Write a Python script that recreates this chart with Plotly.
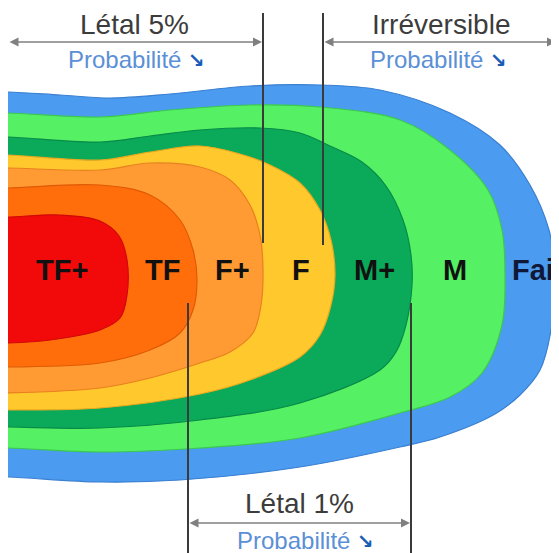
import plotly.graph_objects as go

# ---- data: zone labels and outline anchor points (pixel space) ----
zone_labels = ["Fai", "M", "M+", "F", "F+", "TF", "TF+"]
zone_label_x = [510, 455, 374, 301, 232, 162, 62]
zone_label_y = [270, 270, 270, 270, 270, 270, 270]

fai_pts = [(-20, 92), (8, 92), (60, 95), (110, 98), (170, 94), (250, 86), (320, 85),
           (380, 90), (450, 113), (500, 145), (530, 185), (549, 230), (555, 273),
           (551, 330), (540, 370), (520, 395), (495, 414), (440, 437), (400, 447),
           (300, 467), (180, 480), (100, 482), (8, 477), (-20, 477)]
m_pts = [(-20, 113), (8, 113), (100, 117), (170, 110), (250, 105), (320, 107),
         (400, 120), (450, 150), (488, 190), (502, 230), (505, 273), (502, 325),
         (482, 373), (450, 397), (400, 413), (300, 438), (200, 448), (100, 452),
         (8, 448), (-20, 448)]
mp_pts = [(-20, 137), (8, 137), (100, 142), (150, 136), (200, 130), (260, 128),
          (300, 133), (330, 146), (362, 162), (386, 186), (403, 220), (411, 255),
          (412, 285), (406, 325), (396, 352), (380, 370), (300, 403), (200, 420),
          (100, 428), (8, 427), (-20, 427)]
f_pts = [(-20, 155), (8, 155), (100, 160), (150, 152), (200, 146), (240, 154),
         (270, 165), (300, 183), (320, 210), (331, 240), (335, 275), (331, 305),
         (320, 335), (300, 357), (250, 380), (200, 394), (100, 408), (8, 410), (-20, 410)]
fp_pts = [(-20, 168), (8, 168), (100, 170), (150, 163), (200, 167), (230, 180),
          (250, 205), (260, 235), (263, 270), (261, 305), (253, 333), (230, 352),
          (200, 363), (150, 378), (100, 388), (8, 393), (-20, 393)]
tf_pts = [(-20, 188), (8, 188), (100, 185), (150, 195), (180, 220), (193, 250),
          (197, 280), (193, 310), (180, 333), (150, 350), (100, 363), (8, 367), (-20, 367)]
tfp_pts = [(-20, 217), (8, 217), (60, 215), (100, 221), (119, 236), (127, 260),
           (127, 295), (120, 318), (100, 330), (50, 340), (8, 343), (-20, 343)]
zone_outlines = [fai_pts, m_pts, mp_pts, f_pts, fp_pts, tf_pts, tfp_pts]

zone_fill = ["#4B9BF0", "#55F064", "#0AAA5A", "#FFC82D", "#FF9B32", "#FF6E0A", "#F20A0A"]
zone_edge = ["#3A7FD0", "#3CC850", "#088A48", "#E8A820", "#E88020", "#E05A05", "#D00808"]
label_colors = ["#101838", "#111111", "#111111", "#111111", "#111111", "#111111", "#111111"]

# threshold lines (x, y_start, y_end)
thr_x = [263, 323, 188, 411]
thr_y0 = [13, 13, 303, 303]
thr_y1 = [243, 245, 553, 553]

# range annotations
rng_titles = ["Létal 5%", "Irréversible", "Létal 1%"]
rng_title_x = [134, 441, 299]
rng_title_y = [24, 24, 503]
rng_x0 = [8, 323, 188]
rng_x1 = [262, 556, 410]
rng_arrow_y = [42, 42, 523]
prob_x = [124, 426, 293]
prob_y = [59, 59, 540]
prob_text = "Probabilité"

fig = go.Figure()

for pts, fc, ec in zip(zone_outlines, zone_fill, zone_edge):
    fig.add_trace(go.Scatter(
        x=[p[0] for p in pts], y=[p[1] for p in pts],
        mode="lines", fill="toself", fillcolor=fc,
        line=dict(color=ec, width=1.2, shape="spline", smoothing=1.0),
        hoverinfo="skip", showlegend=False))

for lab, lx, ly, lc in zip(zone_labels, zone_label_x, zone_label_y, label_colors):
    fig.add_annotation(x=lx, y=ly, text="<b>" + lab + "</b>", showarrow=False,
                       xanchor="left" if lab == "Fai" else "center", yanchor="middle",
                       font=dict(family="Liberation Sans", size=29, color=lc))

for x, y0, y1 in zip(thr_x, thr_y0, thr_y1):
    fig.add_shape(type="line", x0=x, x1=x, y0=y0, y1=y1, xref="x", yref="y",
                  line=dict(color="#3a3a3a", width=2))

for t, tx, ty, x0, x1, ay, px, py in zip(rng_titles, rng_title_x, rng_title_y,
                                         rng_x0, rng_x1, rng_arrow_y, prob_x, prob_y):
    fig.add_annotation(x=tx, y=ty, text=t, showarrow=False, borderpad=0,
                       font=dict(family="Liberation Sans", size=28, color="#3c3c3c"))
    fig.add_annotation(x=x1, y=ay, ax=x0, ay=ay, xref="x", yref="y", axref="x", ayref="y",
                       text="", showarrow=True, arrowhead=2, arrowside="end+start",
                       arrowsize=1.2, arrowwidth=1.5, arrowcolor="#808080")
    fig.add_annotation(x=px, y=py, text=prob_text, showarrow=False,
                       font=dict(family="Liberation Sans", size=24, color="#5B8FD6"))
    fig.add_annotation(x=px + 72, y=py + 1, text="<b>↘</b>", showarrow=False,
                       font=dict(family="DejaVu Sans", size=20, color="#1A5CB8"))

# the page body has an 8px margin: the figure starts at window pixel (8, 8)
fig.update_layout(
    width=551, height=545,
    margin=dict(l=0, r=0, t=0, b=0),
    paper_bgcolor="white", plot_bgcolor="white",
    xaxis=dict(range=[8, 559], visible=False, fixedrange=True),
    yaxis=dict(range=[553, 8], visible=False, fixedrange=True),
)

fig.write_html("out.html")
